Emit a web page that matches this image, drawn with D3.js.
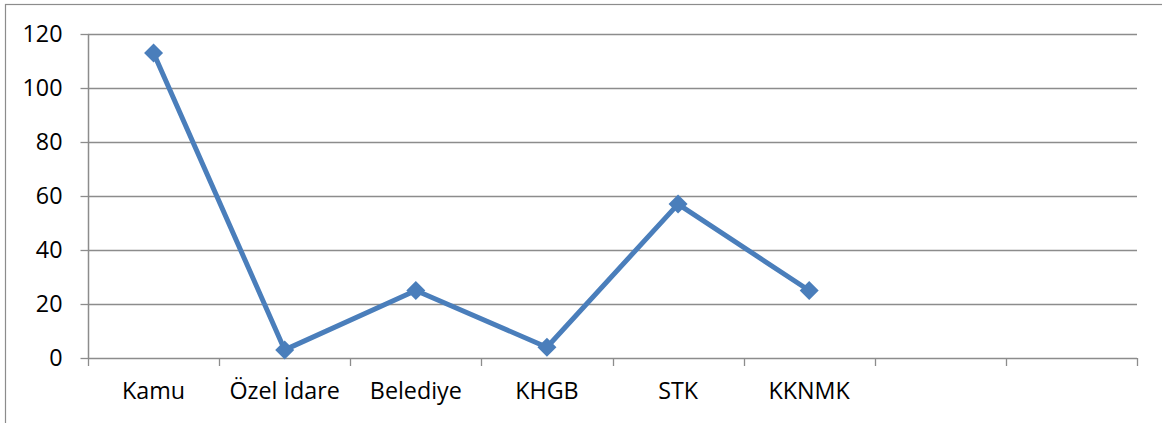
<!DOCTYPE html>
<html><head><meta charset="utf-8">
<script src="https://cdn.jsdelivr.net/npm/d3@7"></script>
<style>body{margin:0;background:#fff}svg{display:block}</style>
</head><body>
<svg id="c" width="1162" height="423"></svg>
<script>
const categories = ["Kamu","Özel İdare","Belediye","KHGB","STK","KKNMK","",""];
const values = [113, 3, 25, 4, 57, 25];
const yTicks = [0,20,40,60,80,100,120];

const svg = d3.select("#c");
const m = {left:88, right:1137, top:34, bottom:358};
const font = "'Open Sans', sans-serif";
const fs = 23.3;

svg.append("rect").attr("x",5.5).attr("y",4.5).attr("width",1170).attr("height",430)
  .attr("fill","#fff").attr("stroke","#8c8c8c").attr("stroke-width",1.2);

const x = d3.scaleBand().domain(d3.range(categories.length)).range([m.left,m.right]).padding(0);
const y = d3.scaleLinear().domain([0,120]).range([m.bottom,m.top]);

// gridlines
svg.append("g").selectAll("line").data(yTicks.filter(d=>d>0)).join("line")
  .attr("x1",m.left).attr("x2",m.right).attr("y1",d=>Math.round(y(d))+0.5).attr("y2",d=>Math.round(y(d))+0.5)
  .attr("stroke","#8c8c8c").attr("stroke-width",1.3);

// y axis
const ya = svg.append("g").attr("transform",`translate(${m.left+0.5},0)`)
  .call(d3.axisLeft(y).tickValues(yTicks).tickSize(8).tickPadding(18));
ya.select(".domain").attr("stroke","#8c8c8c").attr("stroke-width",1.5).attr("d",`M0,${m.top}V${m.bottom}`);
ya.selectAll(".tick line").attr("stroke","#8c8c8c").attr("stroke-width",1.3);
ya.selectAll(".tick text").attr("font-family",font).style("font-size",fs+"px").attr("fill","#000");

// x axis
const xa = svg.append("g").attr("transform",`translate(0,${m.bottom+0.5})`)
  .call(d3.axisBottom(x).tickFormat(i=>categories[i]).tickSize(0).tickPadding(24));
xa.select(".domain").remove();
xa.selectAll(".tick text").attr("font-family",font).style("font-size",fs+"px").attr("fill","#000");
svg.append("line").attr("x1",m.left).attr("x2",m.right).attr("y1",m.bottom+0.5).attr("y2",m.bottom+0.5)
  .attr("stroke","#8c8c8c").attr("stroke-width",1.5);
const edges = d3.range(categories.length+1).map(i=> i<categories.length ? x(i) : m.right);
svg.append("g").selectAll("line").data(edges).join("line")
  .attr("x1",d=>Math.round(d)+0.5).attr("x2",d=>Math.round(d)+0.5)
  .attr("y1",m.bottom).attr("y2",m.bottom+8)
  .attr("stroke","#8c8c8c").attr("stroke-width",1.3);

// line
const cx = i => x(i)+x.bandwidth()/2;
svg.append("path").datum(values)
  .attr("d",d3.line().x((d,i)=>cx(i)).y(d=>y(d)))
  .attr("fill","none").attr("stroke","#4a7ebb").attr("stroke-width",5).attr("stroke-linejoin","round");
svg.append("g").selectAll("path").data(values).join("path")
  .attr("transform",(d,i)=>`translate(${cx(i)},${y(d)})`)
  .attr("d",d3.symbol(d3.symbolDiamond2,230)())
  .attr("fill","#4a7ebb");
</script>
</body></html>
